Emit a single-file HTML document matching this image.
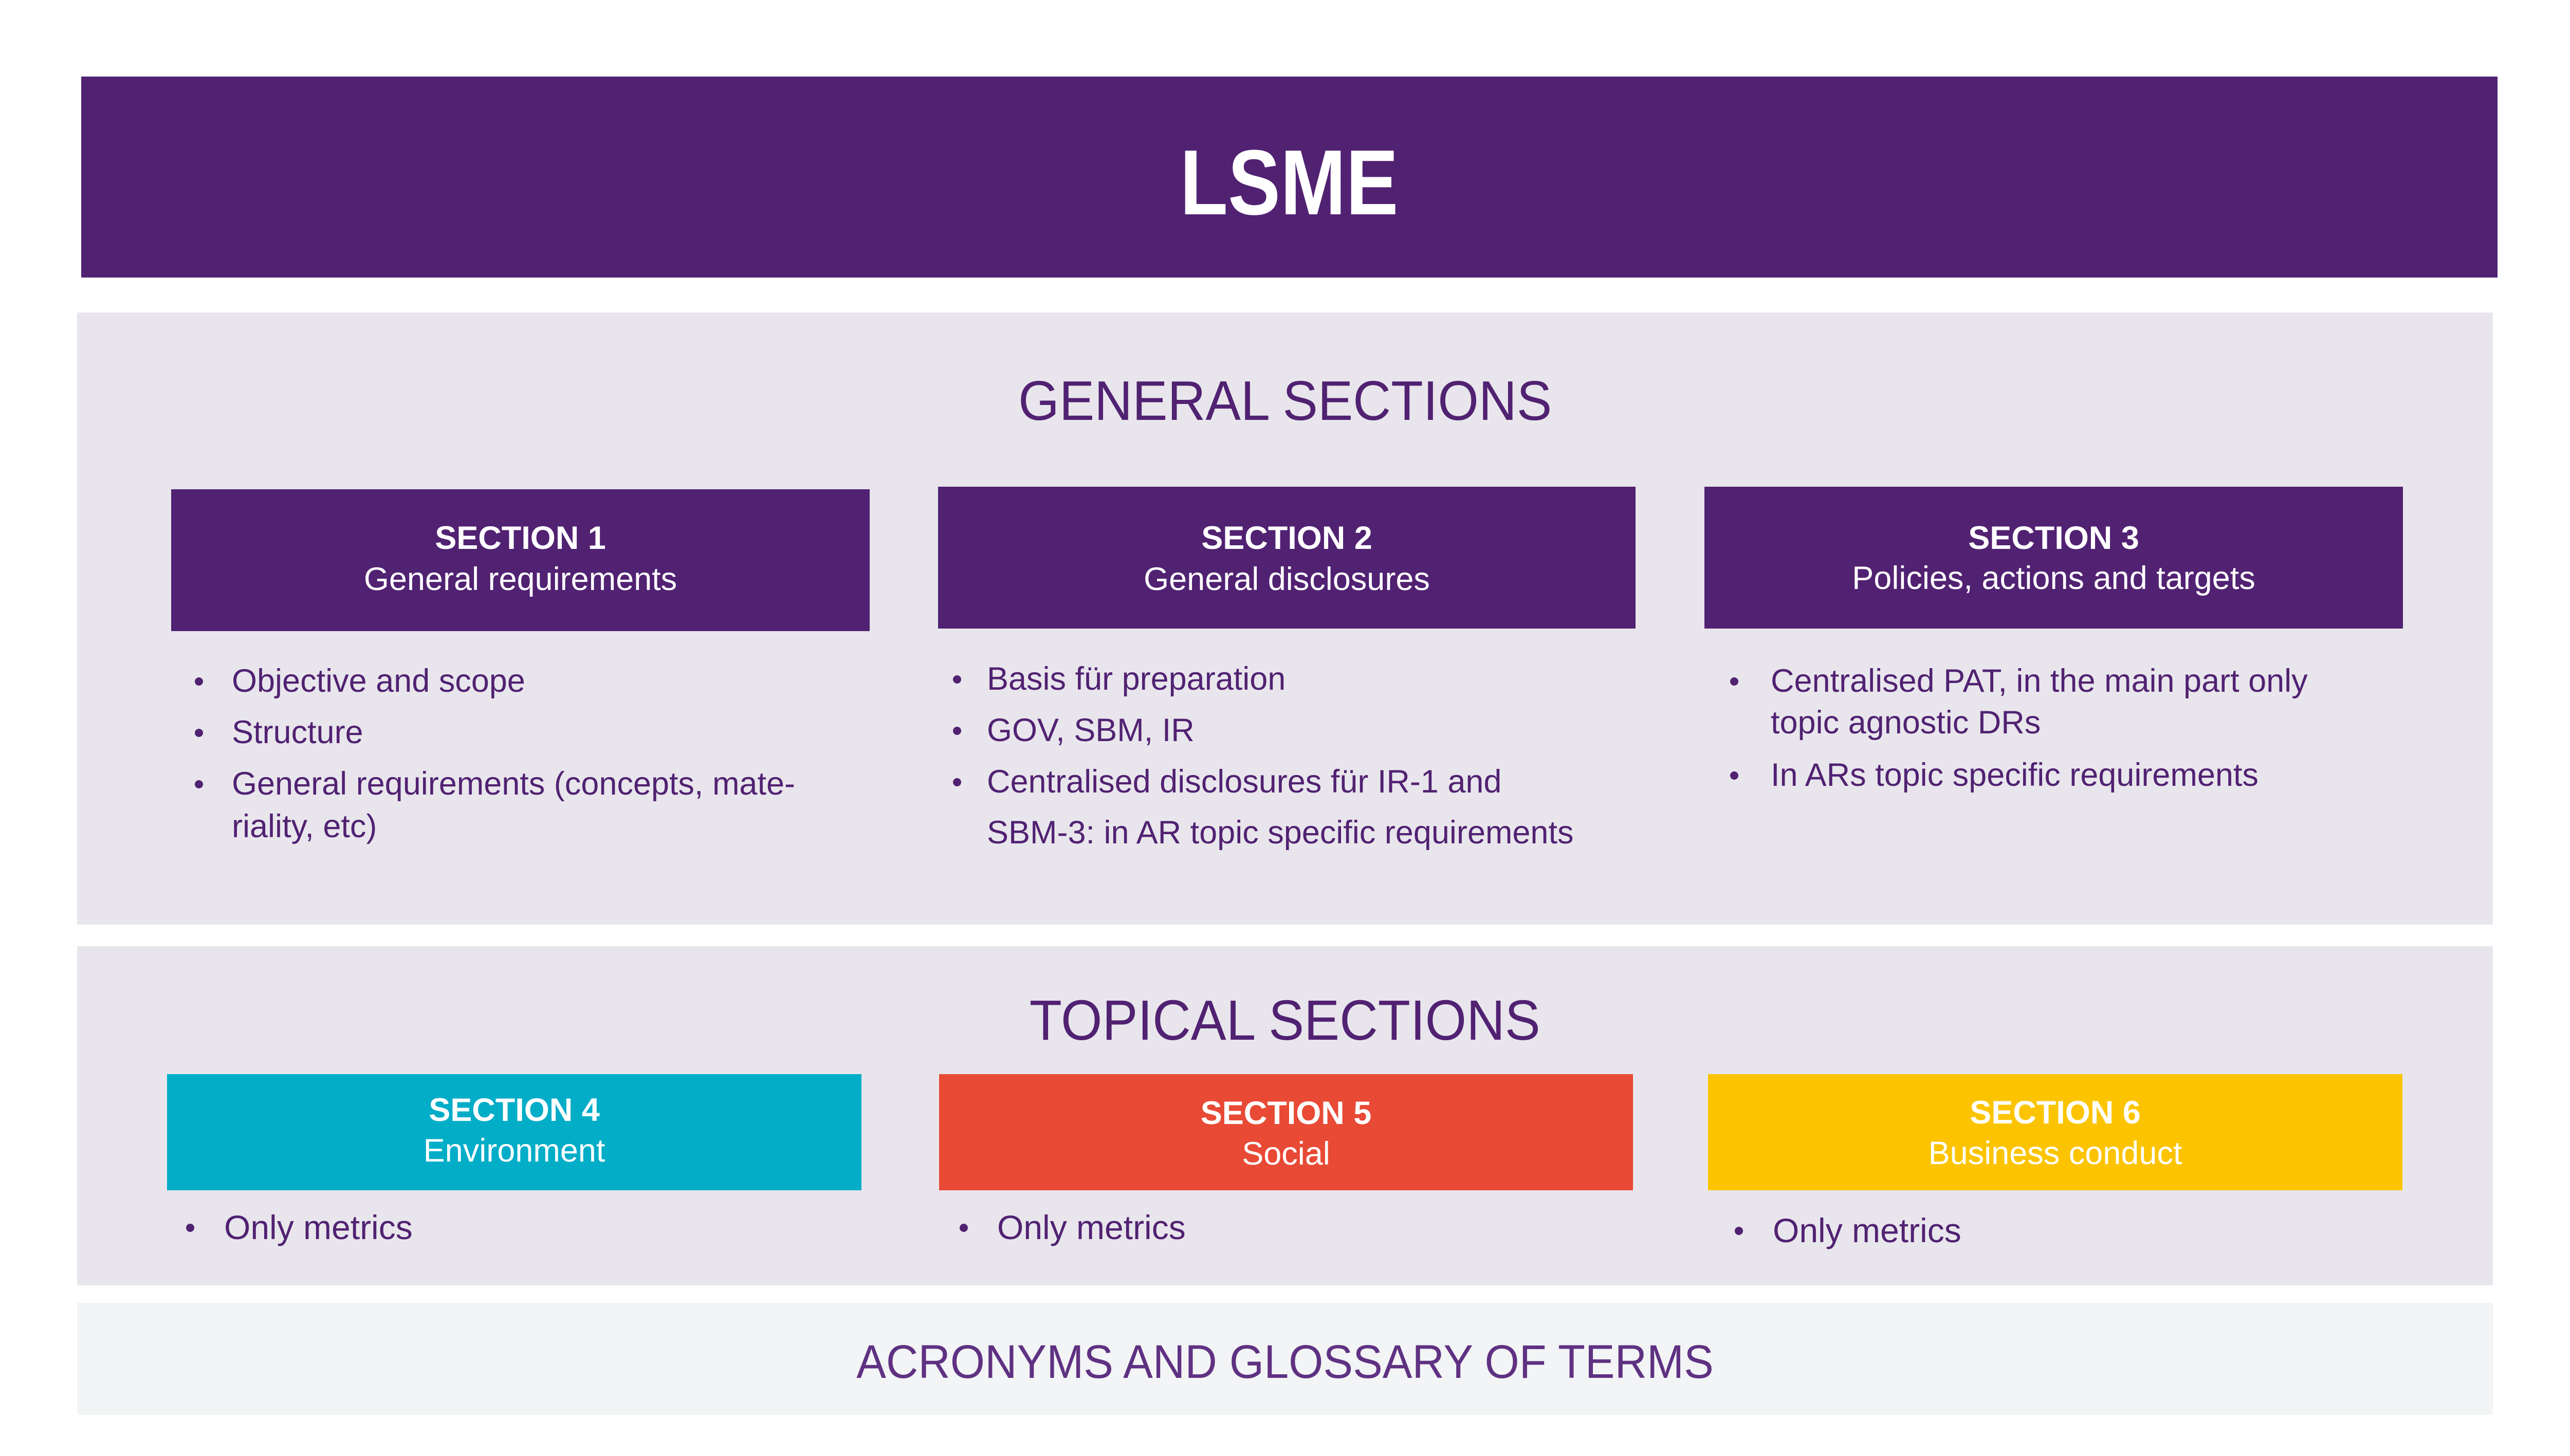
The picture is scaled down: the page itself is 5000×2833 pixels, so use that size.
<!DOCTYPE html>
<html><head><meta charset="utf-8"><style>
*{margin:0;padding:0;box-sizing:border-box}
body{width:5000px;height:2833px;background:#fff;position:relative;overflow:hidden;font-family:"Liberation Sans",sans-serif;color:#512172}
.r{position:absolute}
.t{position:absolute;white-space:nowrap;line-height:1.2}
.c{text-align:center}
.w{color:#fff}
.b{font-weight:bold}
.dot{position:absolute;width:16px;height:16px;border-radius:50%;background:#512172}
</style></head><body>
<div class="r" style="left:158px;top:149px;width:4701px;height:391px;background:#512172"></div>
<div class="t c w b" style="left:158px;width:4701px;top:248px;font-size:180px"><span style="display:inline-block;transform:scaleX(0.85)">LSME</span></div>

<div class="r" style="left:150px;top:608px;width:4700px;height:1191px;background:#e8e6ec"></div>
<div class="t c" style="left:150px;width:4700px;top:715px;font-size:109px"><span style="display:inline-block;transform:scaleX(0.94)">GENERAL SECTIONS</span></div>

<div class="r" style="left:333px;top:952px;width:1359px;height:276px;background:#512172"></div>
<div class="t c w b" style="left:333px;width:1359px;top:1010px;font-size:63px">SECTION 1</div>
<div class="t c w" style="left:333px;width:1359px;top:1090px;font-size:63px">General requirements</div>

<div class="r" style="left:1825px;top:947px;width:1357px;height:276px;background:#512172"></div>
<div class="t c w b" style="left:1825px;width:1357px;top:1010px;font-size:63px">SECTION 2</div>
<div class="t c w" style="left:1825px;width:1357px;top:1090px;font-size:63px">General disclosures</div>

<div class="r" style="left:3316px;top:947px;width:1359px;height:276px;background:#512172"></div>
<div class="t c w b" style="left:3316px;width:1359px;top:1010px;font-size:63px">SECTION 3</div>
<div class="t c w" style="left:3316px;width:1359px;top:1088px;font-size:63px">Policies, actions and targets</div>

<!-- sec1 bullets -->
<div class="dot" style="left:379px;top:1318px"></div>
<div class="t" style="left:451px;top:1288px;font-size:63px">Objective and scope</div>
<div class="dot" style="left:379px;top:1418px"></div>
<div class="t" style="left:451px;top:1388px;font-size:63px">Structure</div>
<div class="dot" style="left:379px;top:1518px"></div>
<div class="t" style="left:451px;top:1488px;font-size:63px">General requirements (concepts, mate-</div>
<div class="t" style="left:451px;top:1571px;font-size:63px">riality, etc)</div>

<!-- sec2 bullets -->
<div class="dot" style="left:1854px;top:1314px"></div>
<div class="t" style="left:1920px;top:1284px;font-size:63px">Basis für preparation</div>
<div class="dot" style="left:1854px;top:1414px"></div>
<div class="t" style="left:1920px;top:1384px;font-size:63px">GOV, SBM, IR</div>
<div class="dot" style="left:1854px;top:1514px"></div>
<div class="t" style="left:1920px;top:1484px;font-size:63px">Centralised disclosures für IR-1 and</div>
<div class="t" style="left:1920px;top:1583px;font-size:63px">SBM-3: in AR topic specific requirements</div>

<!-- sec3 bullets -->
<div class="dot" style="left:3366px;top:1318px"></div>
<div class="t" style="left:3445px;top:1288px;font-size:63px">Centralised PAT, in the main part only</div>
<div class="t" style="left:3445px;top:1369px;font-size:63px">topic agnostic DRs</div>
<div class="dot" style="left:3366px;top:1501px"></div>
<div class="t" style="left:3445px;top:1471px;font-size:63px">In ARs topic specific requirements</div>

<div class="r" style="left:150px;top:1841px;width:4700px;height:660px;background:#e8e6ec"></div>
<div class="t c" style="left:150px;width:4700px;top:1920px;font-size:110px"><span style="display:inline-block;transform:scaleX(0.94)">TOPICAL SECTIONS</span></div>

<div class="r" style="left:325px;top:2090px;width:1351px;height:226px;background:#02adc8"></div>
<div class="t c w b" style="left:325px;width:1351px;top:2123px;font-size:63px">SECTION 4</div>
<div class="t c w" style="left:325px;width:1351px;top:2202px;font-size:63px">Environment</div>

<div class="r" style="left:1827px;top:2090px;width:1350px;height:226px;background:#e84a35"></div>
<div class="t c w b" style="left:1827px;width:1350px;top:2129px;font-size:63px">SECTION 5</div>
<div class="t c w" style="left:1827px;width:1350px;top:2208px;font-size:63px">Social</div>

<div class="r" style="left:3323px;top:2090px;width:1351px;height:226px;background:#fcc400"></div>
<div class="t c w b" style="left:3323px;width:1351px;top:2128px;font-size:63px">SECTION 6</div>
<div class="t c w" style="left:3323px;width:1351px;top:2207px;font-size:63px">Business conduct</div>

<div class="dot" style="left:362px;top:2381px"></div>
<div class="t" style="left:436px;top:2349px;font-size:66px">Only metrics</div>
<div class="dot" style="left:1867px;top:2381px"></div>
<div class="t" style="left:1940px;top:2349px;font-size:66px">Only metrics</div>
<div class="dot" style="left:3375px;top:2387px"></div>
<div class="t" style="left:3449px;top:2355px;font-size:66px">Only metrics</div>

<div class="r" style="left:150px;top:2535px;width:4700px;height:218px;background:#f2f4f5"></div>
<div class="t c" style="left:150px;width:4700px;top:2595px;font-size:92px;color:#5f3182"><span style="display:inline-block;transform:scaleX(0.94)">ACRONYMS AND GLOSSARY OF TERMS</span></div>
</body></html>
